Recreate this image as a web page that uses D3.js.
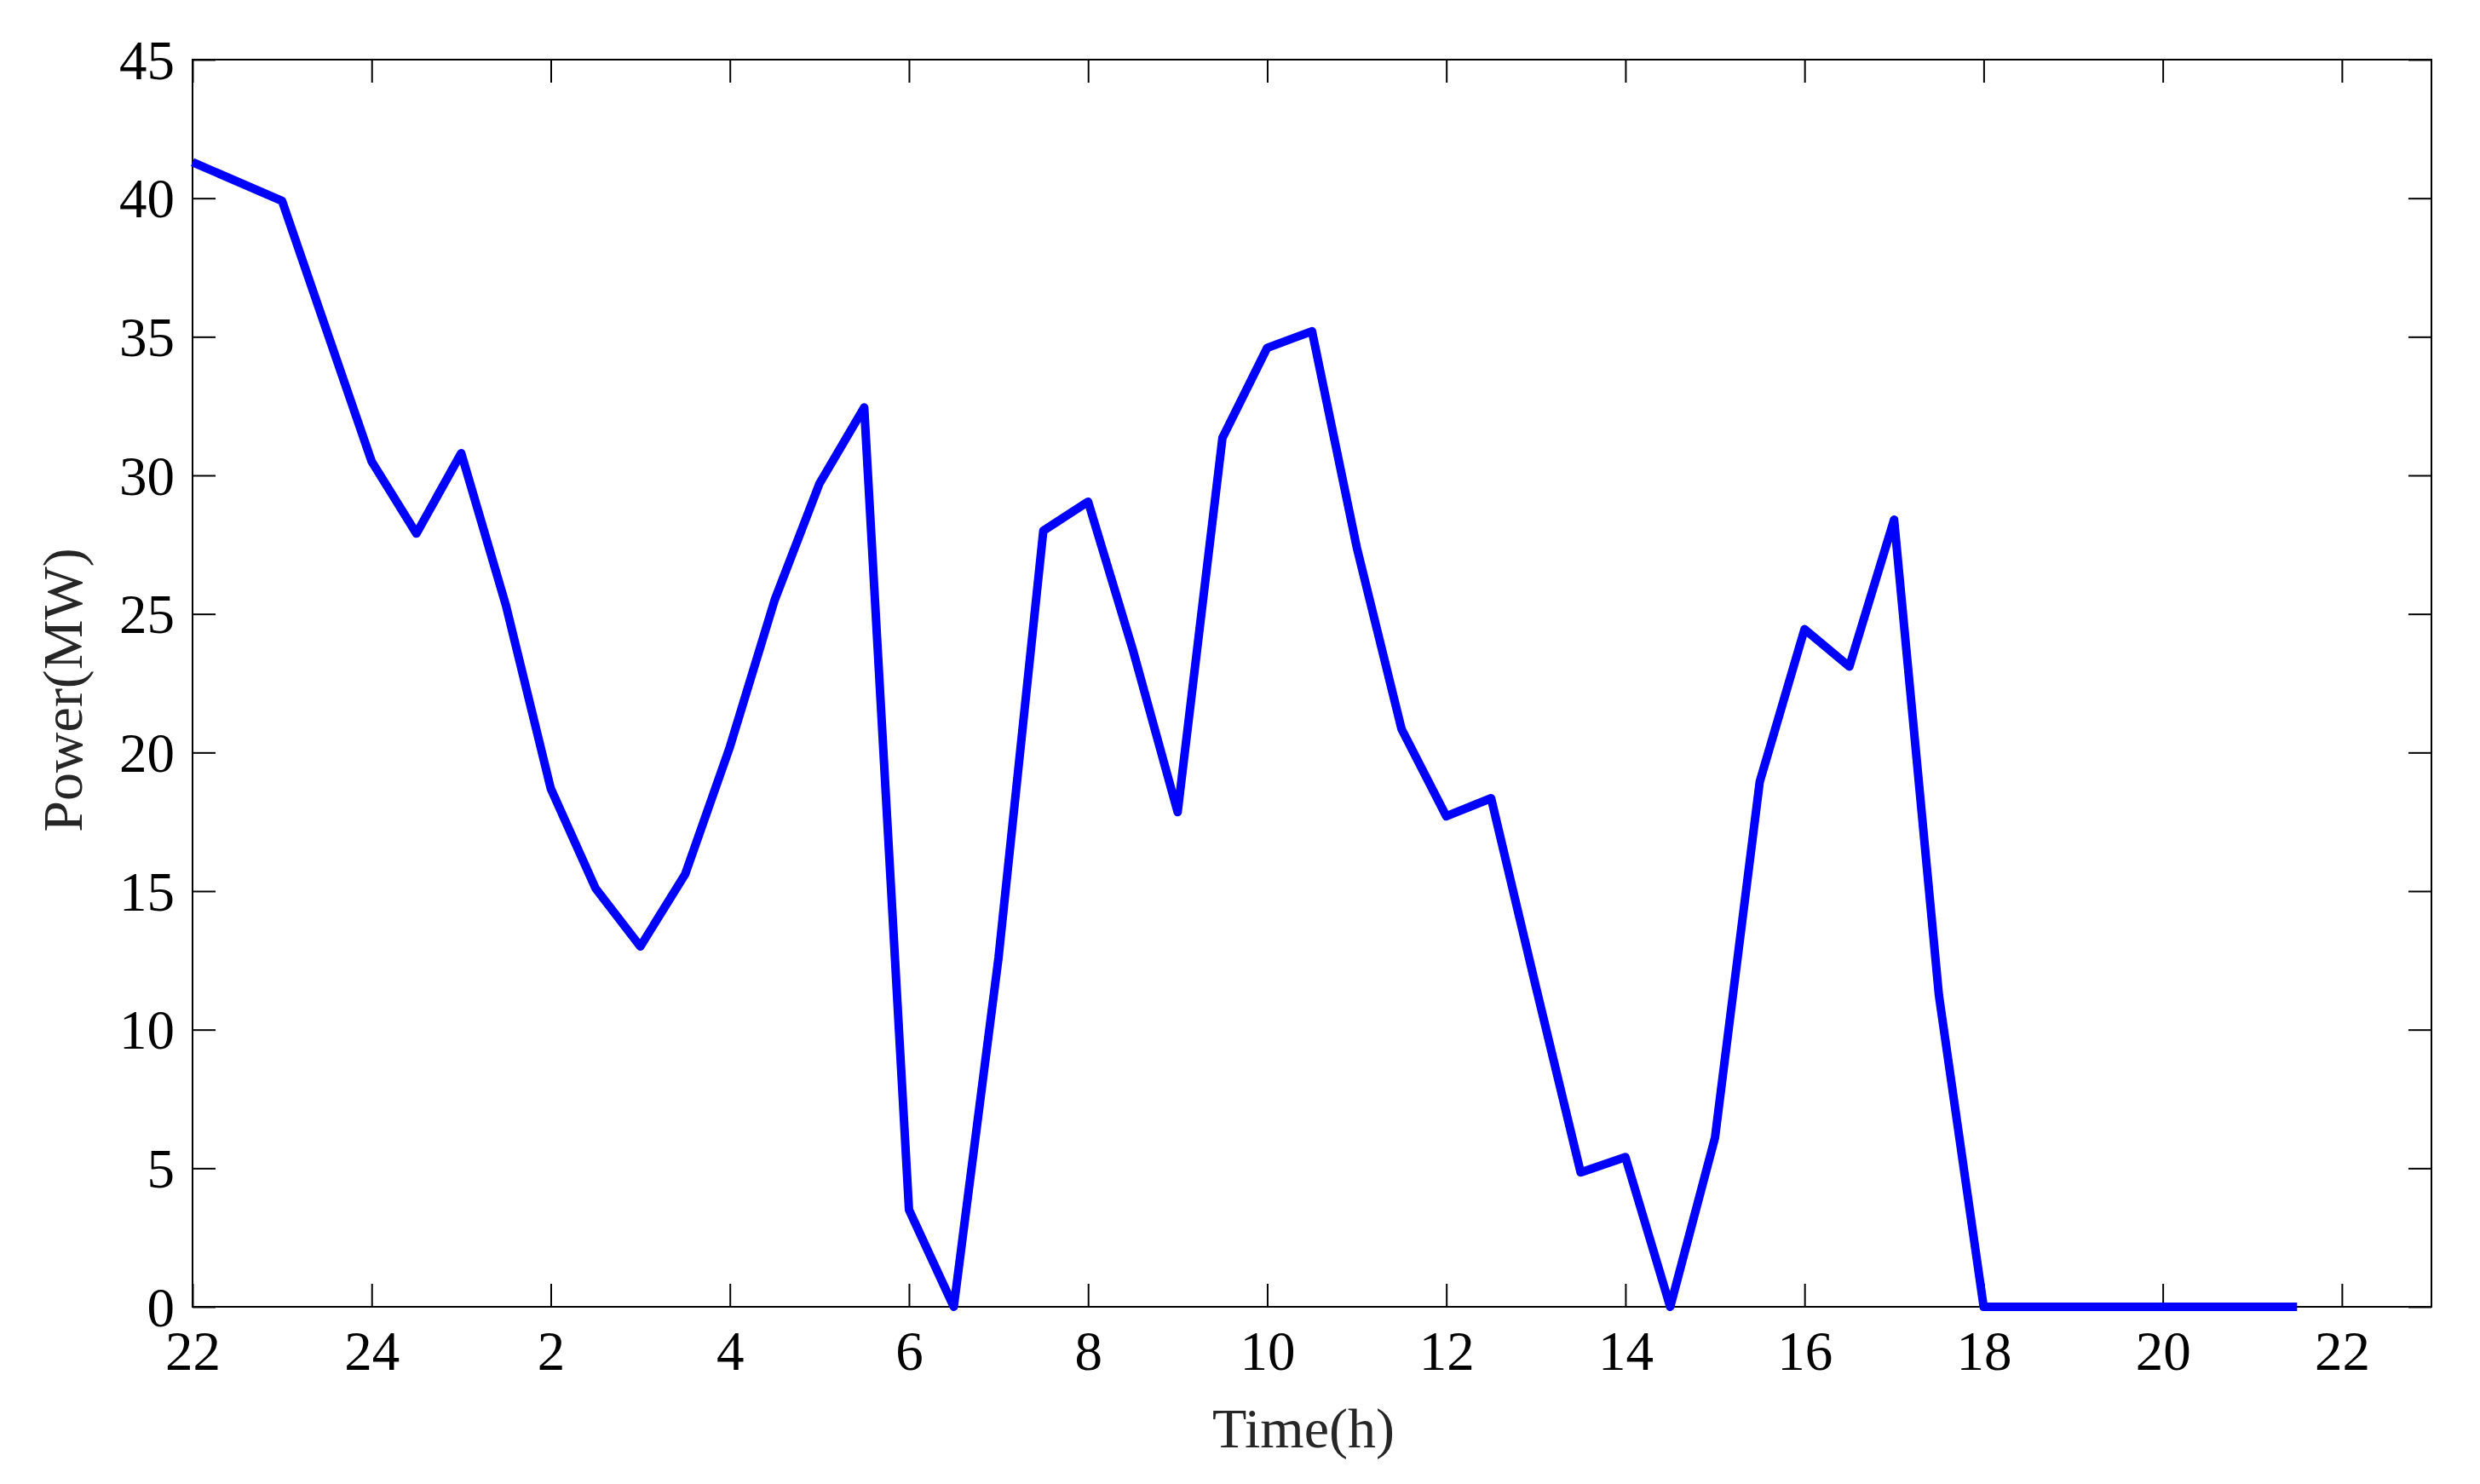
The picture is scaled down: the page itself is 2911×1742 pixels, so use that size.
<!DOCTYPE html>
<html>
<head>
<meta charset="utf-8">
<script src="https://cdn.jsdelivr.net/npm/d3@7"></script>
<style>
  html, body { margin: 0; padding: 0; background: #ffffff; }
  svg { display: block; }
</style>
</head>
<body>
<script>
// Hours elapsed since 22:00 (half-hour steps)
const hours = [0, 0.5, 1, 1.5, 2, 2.5, 3, 3.5, 4, 4.5, 5, 5.5, 6, 6.5, 7, 7.5,
               8, 8.5, 9, 9.5, 10, 10.5, 11, 11.5, 12, 12.5, 13, 13.5, 14, 14.5, 15, 15.5,
               16, 16.5, 17, 17.5, 18, 18.5, 19, 19.5, 20, 20.5, 21, 21.5, 22, 22.5, 23, 23.5];
// Power (MW)
const power = [41.3, 40.6, 39.9, 35.2, 30.5, 27.9, 30.8, 25.3, 18.7, 15.1, 13.0, 15.6, 20.2, 25.5, 29.7, 32.45,
               3.5, 0, 12.6, 28.0, 29.05, 23.7, 17.85, 31.35, 34.6, 35.2, 27.4, 20.85, 17.7, 18.35, 11.55, 4.85,
               5.4, 0, 6.1, 18.95, 24.45, 23.1, 28.4, 11.25, 0, 0, 0, 0, 0, 0, 0, 0];

const xTickValues = [0, 2, 4, 6, 8, 10, 12, 14, 16, 18, 20, 22, 24];
const xTickLabels = ["22", "24", "2", "4", "6", "8", "10", "12", "14", "16", "18", "20", "22"];
const yTickValues = [0, 5, 10, 15, 20, 25, 30, 35, 40, 45];

(function () {
const W = 2911, H = 1742;
const mLeft = 226, mRight = 2854, mTop = 70, mBottom = 1534;
const FONT = "'Liberation Serif', 'Times New Roman', Times, serif";
const TICK = 27;

const svg = d3.select("body").append("svg")
  .attr("width", W).attr("height", H)
  .style("background", "#ffffff");

const x = d3.scaleLinear().domain([0, 25]).range([mLeft, mRight]);
const y = d3.scaleLinear().domain([0, 45]).range([mBottom, mTop]);

// Bottom axis
const gx = svg.append("g").attr("transform", `translate(0,${mBottom})`)
  .call(d3.axisBottom(x).tickValues(xTickValues)
    .tickFormat((d, i) => xTickLabels[i])
    .tickSizeInner(-TICK).tickSizeOuter(0).tickPadding(28));
// Top axis (mirror ticks)
const gxt = svg.append("g").attr("transform", `translate(0,${mTop})`)
  .call(d3.axisTop(x).tickValues(xTickValues).tickFormat("")
    .tickSizeInner(-TICK).tickSizeOuter(0));
// Left axis
const gy = svg.append("g").attr("transform", `translate(${mLeft},0)`)
  .call(d3.axisLeft(y).tickValues(yTickValues).tickFormat(d3.format("d"))
    .tickSizeInner(-TICK).tickSizeOuter(0).tickPadding(21));
// Right axis (mirror ticks)
const gyr = svg.append("g").attr("transform", `translate(${mRight},0)`)
  .call(d3.axisRight(y).tickValues(yTickValues).tickFormat("")
    .tickSizeInner(-TICK).tickSizeOuter(0));

[gx, gxt, gy, gyr].forEach(g => {
  g.select(".domain").remove();
  g.selectAll(".tick line").attr("stroke", "#000").attr("stroke-width", 2);
  g.selectAll("text")
    .attr("font-family", FONT)
    .attr("font-size", 65)
    .attr("fill", "#000");
});
gx.selectAll(".tick text").attr("dy", "0.71em");
gy.selectAll(".tick text").attr("dy", "0.34em");

// Box
svg.append("rect")
  .attr("x", mLeft).attr("y", mTop)
  .attr("width", mRight - mLeft).attr("height", mBottom - mTop)
  .attr("fill", "none").attr("stroke", "#000").attr("stroke-width", 2);

// Axis titles
svg.append("text")
  .attr("x", (mLeft + mRight) / 2 - 10).attr("y", 1699)
  .attr("text-anchor", "middle")
  .attr("font-family", FONT).attr("font-size", 66)
  .attr("fill", "#262626")
  .text("Time(h)");

svg.append("text")
  .attr("transform", `translate(96, ${(mTop + mBottom) / 2 + 8}) rotate(-90)`)
  .attr("text-anchor", "middle")
  .attr("font-family", FONT).attr("font-size", 66)
  .attr("fill", "#262626")
  .text("Power(MW)");

// Data line
const data = hours.map((h, i) => ({ h: h, p: power[i] }));
const line = d3.line().x(d => x(d.h)).y(d => y(d.p));
svg.append("path")
  .datum(data)
  .attr("d", line)
  .attr("fill", "none")
  .attr("stroke", "#0000ff")
  .attr("stroke-width", 10)
  .attr("stroke-linejoin", "round")
  .attr("stroke-linecap", "butt");
})();
</script>
</body>
</html>
